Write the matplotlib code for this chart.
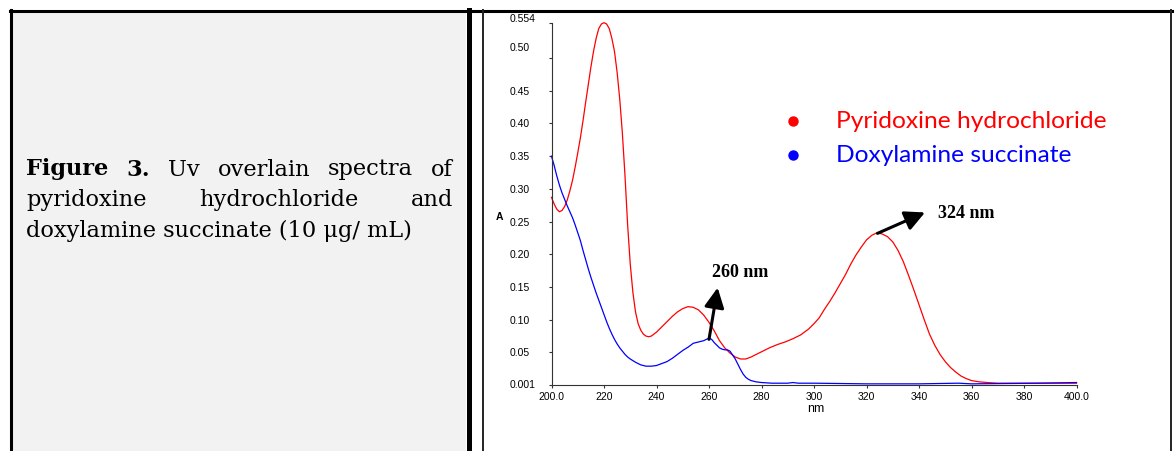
import matplotlib
matplotlib.use("Agg")
import matplotlib.pyplot as plt
from matplotlib.lines import Line2D
from matplotlib.patches import Rectangle
from matplotlib.transforms import ScaledTranslation

# spectra (wavelength nm, absorbance)
pyr_nm = [200, 201, 202, 203, 204, 205, 206, 207, 208, 209, 210, 211, 212, 213, 214,
          215, 216, 217, 218, 219, 220, 221, 222, 223, 224, 225, 226, 227, 228, 229,
          230, 231, 232, 233, 234, 235, 236, 237, 238, 239, 240, 242, 244, 246, 248,
          250, 252, 254, 256, 258, 260, 262, 264, 266, 268, 270, 272, 274, 276, 278,
          280, 283, 286, 289, 292, 295, 298, 300, 302, 304, 306, 308, 310, 312, 314,
          316, 318, 320, 322, 324, 326, 328, 330, 332, 334, 336, 338, 340, 342, 344,
          346, 348, 350, 352, 354, 356, 358, 360, 363, 366, 370, 380, 390, 400]
pyr_abs = [0.287, 0.277, 0.269, 0.265, 0.267, 0.273, 0.283, 0.297, 0.313, 0.333,
           0.355, 0.378, 0.404, 0.432, 0.459, 0.486, 0.510, 0.530, 0.545, 0.552,
           0.554, 0.552, 0.545, 0.530, 0.510, 0.478, 0.437, 0.385, 0.320, 0.245,
           0.185, 0.142, 0.112, 0.094, 0.084, 0.078, 0.075, 0.074, 0.075, 0.078,
           0.081, 0.089, 0.097, 0.105, 0.112, 0.117, 0.120, 0.119, 0.115, 0.107,
           0.096, 0.083, 0.068, 0.057, 0.049, 0.043, 0.040, 0.040, 0.043, 0.047,
           0.051, 0.057, 0.062, 0.066, 0.071, 0.077, 0.086, 0.094, 0.103, 0.116,
           0.128, 0.141, 0.155, 0.169, 0.185, 0.199, 0.211, 0.222, 0.229, 0.233,
           0.231, 0.227, 0.219, 0.206, 0.189, 0.168, 0.146, 0.123, 0.100, 0.078,
           0.061, 0.047, 0.036, 0.027, 0.020, 0.014, 0.010, 0.007, 0.005, 0.004,
           0.003, 0.003, 0.003, 0.003]

dox_nm = [200, 201, 202, 203, 204, 205, 206, 207, 208, 209, 210, 211, 212, 213, 214,
          215, 216, 217, 218, 219, 220, 221, 222, 223, 224, 225, 226, 227, 228, 229,
          230, 232, 234, 236, 238, 240, 242, 244, 246, 248, 250, 252, 254, 256, 258,
          260, 261, 262, 263, 264, 265, 266, 267, 268, 269, 270, 271, 272, 273, 274,
          275, 276, 278, 280, 284, 290, 292, 294, 300, 320, 340, 355, 360, 386, 400]
dox_abs = [0.350, 0.336, 0.320, 0.306, 0.294, 0.284, 0.274, 0.265, 0.256, 0.245,
           0.233, 0.221, 0.206, 0.192, 0.178, 0.165, 0.153, 0.141, 0.130, 0.119,
           0.108, 0.097, 0.087, 0.078, 0.070, 0.063, 0.057, 0.052, 0.047, 0.043,
           0.040, 0.035, 0.031, 0.029, 0.029, 0.030, 0.033, 0.036, 0.041, 0.047,
           0.053, 0.058, 0.064, 0.066, 0.068, 0.072, 0.070, 0.065, 0.061, 0.057,
           0.055, 0.054, 0.054, 0.052, 0.046, 0.040, 0.032, 0.024, 0.017, 0.012,
           0.009, 0.007, 0.005, 0.004, 0.003, 0.003, 0.004, 0.003, 0.003, 0.002,
           0.002, 0.003, 0.002, 0.003, 0.004]

x_ticks = [200, 220, 240, 260, 280, 300, 320, 340, 360, 380, 400]
x_labels = ["200.0", "220", "240", "260", "280", "300", "320", "340", "360", "380", "400.0"]
y_ticks = [0.001, 0.05, 0.10, 0.15, 0.20, 0.25, 0.30, 0.35, 0.40, 0.45, 0.50, 0.554]
y_labels = ["0.001", "0.05", "0.10", "0.15", "0.20", "0.25", "0.30", "0.35", "0.40",
            "0.45", "0.50", "0.554"]

series_names = ["Pyridoxine hydrochloride", "Doxylamine succinate"]
series_colors = ["#ff0000", "#0000ff"]

caption_justified = [
    [("Figure", "bold"), ("3.", "bold"), ("Uv", "normal"), ("overlain", "normal"),
     ("spectra", "normal"), ("of", "normal")],
    [("pyridoxine", "normal"), ("hydrochloride", "normal"), ("and", "normal")],
]
caption_last = "doxylamine succinate (10 μg/ mL)"

W, H = 1176, 451
fig = plt.figure(figsize=(W / 100, H / 100), dpi=100)
fig.patch.set_facecolor("white")
renderer = fig.canvas.get_renderer()


def fx(x):
    return x / W


def fy(y):
    return 1 - y / H


def text_w(s, **kw):
    t = fig.text(0, 0, s, **kw)
    w = t.get_window_extent(renderer).width
    t.remove()
    return w


# table look: grey caption cell and borders
fig.add_artist(Rectangle((fx(12), 0), fx(466) - fx(12), fy(12), transform=fig.transFigure,
                         fc="#f2f2f2", ec="none", zorder=0))
fig.add_artist(Line2D([fx(10), fx(1172)], [fy(11), fy(11)], lw=2.2, color="black",
                      transform=fig.transFigure))
fig.add_artist(Line2D([fx(11), fx(11)], [fy(10), 0], lw=2.2, color="black",
                      transform=fig.transFigure))
fig.add_artist(Line2D([fx(468.5), fx(468.5)], [fy(10), 0], lw=3.6, color="black",
                      transform=fig.transFigure))
fig.add_artist(Line2D([fx(483), fx(483)], [fy(10), 0], lw=1.4, color="#222222",
                      transform=fig.transFigure))
fig.add_artist(Line2D([fx(1171), fx(1171)], [fy(10), 0], lw=1.4, color="#222222",
                      transform=fig.transFigure))

# caption, justified like the original
cap_font = "DejaVu Serif"
cap_size = 10 * 389 / text_w(caption_last, family=cap_font, fontsize=10)
left, right = 26, 453
baselines = [175.5, 206, 237.5]
for line, base in zip(caption_justified, baselines):
    widths = [text_w(w, family=cap_font, fontsize=cap_size, fontweight=fw) for w, fw in line]
    gap = (right - left - sum(widths)) / (len(line) - 1)
    x = left
    for (word, fw), w in zip(line, widths):
        fig.text(fx(x), fy(base), word, family=cap_font, fontsize=cap_size,
                 fontweight=fw, va="baseline", ha="left", color="black")
        x += w + gap
fig.text(fx(left), fy(baselines[2]), caption_last, family=cap_font, fontsize=cap_size,
         va="baseline", ha="left", color="black")

# chart
ax = fig.add_axes([fx(551.5), 1 - 384.5 / H, (1076.5 - 551.5) / W, (384.5 - 22.7) / H])
ax.set_facecolor("none")
ax.plot(pyr_nm, pyr_abs, color=series_colors[0], lw=0.9, clip_on=False)
ax.plot(dox_nm, dox_abs, color=series_colors[1], lw=0.9, clip_on=False)
ax.set_xlim(200, 400)
ax.set_ylim(0.001, 0.554)
for s in ["top", "right"]:
    ax.spines[s].set_visible(False)
for s in ["left", "bottom"]:
    ax.spines[s].set_linewidth(0.8)
    ax.spines[s].set_color("#333333")

ax.set_xticks(x_ticks)
ax.set_xticklabels(x_labels, family="Liberation Sans", fontsize=7.5)
ax.set_yticks(y_ticks)
ax.set_yticklabels(y_labels, family="Liberation Sans", fontsize=7.5)
ax.tick_params(axis="both", direction="out", length=2.5, width=0.8, color="#333333")
ax.tick_params(axis="x", pad=3)
ax.tick_params(axis="y", pad=27.4)
for lbl in ax.get_yticklabels():
    lbl.set_ha("left")
    raise_pt = {"0.50": 7.6, "0.554": 3.2}.get(lbl.get_text(), 0)
    if raise_pt:
        lbl.set_transform(lbl.get_transform()
                          + ScaledTranslation(0, raise_pt / 72, fig.dpi_scale_trans))

ax.set_xlabel("nm", family="Liberation Sans", fontsize=9)
ax.xaxis.set_label_coords(0.504, -0.068)
ax.xaxis.label.set_va("center")
ax.set_ylabel("A", family="Liberation Sans", fontsize=7.5, fontweight="bold", rotation=0)
ax.yaxis.set_label_coords(-0.099, 0.463)
ax.yaxis.label.set_va("center")
ax.yaxis.label.set_ha("center")

# peak arrows
arrow = dict(arrowstyle="-|>,head_length=0.6,head_width=0.3", lw=2.2, color="black",
             mutation_scale=20, shrinkA=0, shrinkB=0)
ax.annotate("", xy=(342.3, 0.264), xytext=(324.2, 0.232), arrowprops=arrow)
ax.text(347.2, 0.2557, "324 nm", family="Liberation Serif", fontsize=13,
        fontweight="bold", va="baseline", ha="left")
ax.annotate("", xy=(263.3, 0.149), xytext=(260.0, 0.070), arrowprops=arrow)
ax.text(261.1, 0.1656, "260 nm", family="Liberation Serif", fontsize=13,
        fontweight="bold", va="baseline", ha="left")

# legend drawn as bullet list
leg_font = "Lato"
leg_size = 10 * 271 / text_w(series_names[0], family=leg_font, fontsize=10)
for name, col, dot_y, base in zip(series_names, series_colors, [120.5, 155], [127.7, 162]):
    fig.add_artist(Line2D([fx(793)], [fy(dot_y)], marker="o", ms=6.5, ls="none",
                          color=col, transform=fig.transFigure))
    fig.text(fx(836), fy(base), name, family=leg_font, fontsize=leg_size, color=col,
             va="baseline", ha="left")

fig.savefig("out.png", dpi=100)
